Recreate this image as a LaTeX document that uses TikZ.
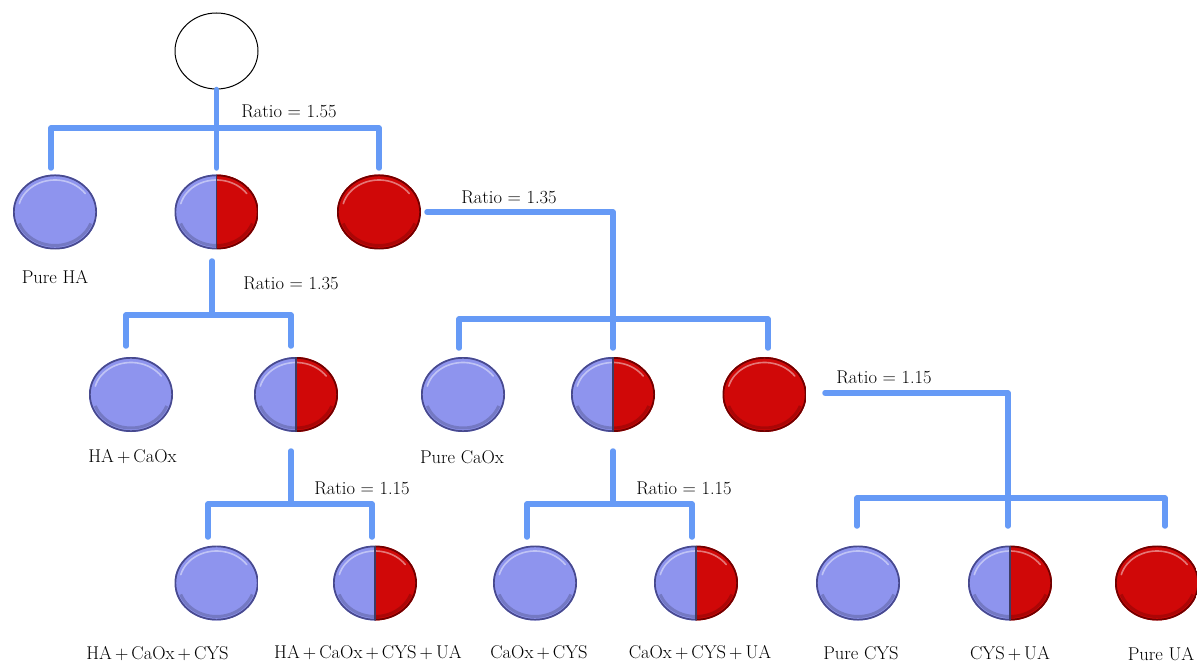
\documentclass[tikz,border=0pt]{standalone}
\usetikzlibrary{shapes.geometric}

\definecolor{ballblue}{RGB}{142,148,238}
\definecolor{ballblueedge}{RGB}{72,74,142}
\definecolor{ballred}{RGB}{208,8,8}
\definecolor{ballrededge}{RGB}{112,0,0}
\definecolor{barblue}{RGB}{102,154,246}
\definecolor{splitline}{RGB}{60,60,100}

% paints a ball: left half / right half fill and rim colours
\newcommand\ballpaint[4]{%
  \fill[#1] (path picture bounding box.south west) rectangle (path picture bounding box.north);
  \fill[#3] (path picture bounding box.south) rectangle (path picture bounding box.north east);
  \begin{scope}
    \clip (path picture bounding box.south west) rectangle (path picture bounding box.north);
    \draw[#2, line width=3.4pt] (path picture bounding box.center) ellipse [x radius=42pt, y radius=37.5pt];
  \end{scope}
  \begin{scope}
    \clip (path picture bounding box.south) rectangle (path picture bounding box.north east);
    \draw[#4, line width=3.4pt] (path picture bounding box.center) ellipse [x radius=42pt, y radius=37.5pt];
  \end{scope}
  % soft highlight along the upper rim
  \draw[white, opacity=.45, line width=1.6pt, line cap=round]
    ([shift={(165:37pt and 32pt)}]path picture bounding box.center)
    arc [start angle=165, end angle=35, x radius=37pt, y radius=32pt];
  % darker band along the lower rim
  \draw[black, opacity=.18, line width=3pt]
    ([shift={(200:38pt and 33.5pt)}]path picture bounding box.center)
    arc [start angle=200, end angle=340, x radius=38pt, y radius=33.5pt];
}

\tikzset{
  ball/.style={ellipse, minimum width=84pt, minimum height=75pt, inner sep=0pt},
  blueball/.style={ball, path picture={\ballpaint{ballblue}{ballblueedge}{ballblue}{ballblueedge}}},
  redball/.style={ball, path picture={\ballpaint{ballred}{ballrededge}{ballred}{ballrededge}}},
  halfball/.style={ball, path picture={\ballpaint{ballblue}{ballblueedge}{ballred}{ballrededge}
      \draw[splitline, line width=1.8pt] (path picture bounding box.south) -- (path picture bounding box.north);}},
  rootball/.style={ellipse, minimum width=83pt, minimum height=76pt, inner sep=0pt, draw=black, line width=1pt, fill=white},
  bar/.style={draw=barblue, line width=5.5pt, line cap=round, line join=round},
  lbl/.style={font=\fontsize{18.5}{20}\selectfont, inner sep=0pt, anchor=center},
}

\begin{document}
\begin{tikzpicture}[x=1pt, y=-1pt]
\fill[white] (0,0) rectangle (1197,663);
\useasboundingbox (0,0) rectangle (1197,663);

% ---- balls ----
\node[rootball] (root) at (216.5,51) {};

\node[blueball] (ha)    at (55,212)    {};
\node[halfball] (mixA)  at (216.5,212) {};
\node[redball]  (restA) at (379,212)   {};

\node[blueball] (hacaox) at (131,394.5)   {};
\node[halfball] (mixB)   at (296,394.5)   {};
\node[blueball] (caox)   at (463,394.5)   {};
\node[halfball] (mixC)   at (613,394.5)   {};
\node[redball]  (restC)  at (764.5,394.5) {};

\node[blueball] (hcc)   at (216.5,583) {};
\node[halfball] (hccu)  at (375,583)   {};
\node[blueball] (cc)    at (535,583)   {};
\node[halfball] (ccu)   at (696,583)   {};
\node[blueball] (cys)   at (858,583)   {};
\node[halfball] (cysua) at (1010,583)  {};
\node[redball]  (ua)    at (1157,583)  {};

% ---- names ----
\node[lbl] (tHA)    at (55,277)    {Pure HA};
\node[lbl] (tHACa)  at (132.5,457) {HA\,+\,CaOx};
\node[lbl] (tCaOx)  at (462,457)   {Pure CaOx};
\node[lbl] (tHCC)   at (157.5,654) {HA\,+\,CaOx\,+\,CYS};
\node[lbl] (tHCCU)  at (368,653)   {HA\,+\,CaOx\,+\,CYS\,+\,UA};
\node[lbl] (tCC)    at (539,653)   {CaOx\,+\,CYS};
\node[lbl] (tCCU)   at (700,653)   {CaOx\,+\,CYS\,+\,UA};
\node[lbl] (tCYS)   at (861,653)   {Pure CYS};
\node[lbl] (tCYSUA) at (1010,654)  {CYS\,+\,UA};
\node[lbl] (tUA)    at (1161,654)  {Pure UA};

% ---- ratios ----
\node[lbl] (r1) at (289,111) {Ratio = 1.55};
\node[lbl] (r2) at (291,283) {Ratio = 1.35};
\node[lbl] (r3) at (509,197) {Ratio = 1.35};
\node[lbl] (r4) at (362,488) {Ratio = 1.15};
\node[lbl] (r5) at (684,488) {Ratio = 1.15};
\node[lbl] (r6) at (884,377) {Ratio = 1.15};

% ---- split from the root ----
\coordinate (jA)  at (216.5,128);
\coordinate (dA1) at (51,168);
\coordinate (dA2) at (216.5,168);
\coordinate (dA3) at (379,168);
\draw[bar] (root.south) -- (jA);
\draw[bar] (dA1) -- (dA1 |- jA) -- (dA3 |- jA) -- (dA3);
\draw[bar] (jA) -- (dA2);

% ---- split of mixA ----
\coordinate (sB)  at (212,261);
\coordinate (jB)  at (212,315);
\coordinate (dB1) at (126,346);
\coordinate (dB2) at (291,346);
\draw[bar] (sB) -- (jB);
\draw[bar] (dB1) -- (dB1 |- jB) -- (dB2 |- jB) -- (dB2);

% ---- split of restA ----
\coordinate (sC)  at (427,212);
\coordinate (cC)  at (613,212);
\coordinate (jC)  at (613,319);
\coordinate (dC1) at (459,348);
\coordinate (dC2) at (613,348);
\coordinate (dC3) at (768,348);
\draw[bar] (sC) -- (cC) -- (jC);
\draw[bar] (dC1) -- (dC1 |- jC) -- (dC3 |- jC) -- (dC3);
\draw[bar] (jC) -- (dC2);

% ---- split of mixB ----
\coordinate (sD)  at (291,451);
\coordinate (jD)  at (291,504);
\coordinate (dD1) at (208,537);
\coordinate (dD2) at (372,537);
\draw[bar] (sD) -- (jD);
\draw[bar] (dD1) -- (dD1 |- jD) -- (dD2 |- jD) -- (dD2);

% ---- split of mixC ----
\coordinate (sE)  at (613,451);
\coordinate (jE)  at (613,504);
\coordinate (dE1) at (527,537);
\coordinate (dE2) at (692,537);
\draw[bar] (sE) -- (jE);
\draw[bar] (dE1) -- (dE1 |- jE) -- (dE2 |- jE) -- (dE2);

% ---- split of restC ----
\coordinate (sF)  at (825,393);
\coordinate (cF)  at (1008,393);
\coordinate (jF)  at (1008,498);
\coordinate (dF1) at (857,526);
\coordinate (dF2) at (1008,526);
\coordinate (dF3) at (1165,526);
\draw[bar] (sF) -- (cF) -- (jF);
\draw[bar] (dF1) -- (dF1 |- jF) -- (dF3 |- jF) -- (dF3);
\draw[bar] (jF) -- (dF2);
\end{tikzpicture}
\end{document}
